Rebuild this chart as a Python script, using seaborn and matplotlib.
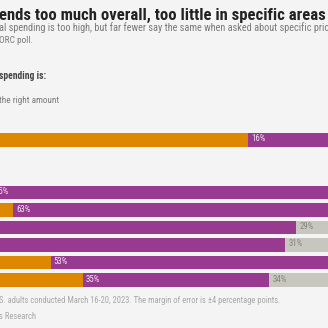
import matplotlib
matplotlib.use('Agg')
import matplotlib.pyplot as plt
import seaborn as sns
import pandas as pd
from matplotlib import font_manager as fm

# ---- data ----
categories = ['Overall', 'Social Security', 'Medicare', 'Education',
              'Infrastructure', 'Border security', 'Military']
too_much = [62, 14, 18, 10, 10, 25, 31]
too_little = [16, 65, 63, 61, 59, 53, 35]
right_amount = [22, 21, 19, 29, 31, 22, 34]
order = ['Overall', ' ', '  ', 'Social Security', 'Medicare', 'Education',
         'Infrastructure', 'Border security', 'Military']

title = "ends too much overall, too little in specific areas"
sub1 = "al spending is too high, but far fewer say the same when asked about specific prio"
sub2 = "ORC poll."
legend_title = "spending is:"
legend_item = "the right amount"
foot1 = "S. adults conducted March 16-20, 2023. The margin of error is \u00b14 percentage points."
foot2 = "s Research"

ORANGE = '#DE8700'
PURPLE = '#973A90'
GRAY = '#C7C7BF'
BG = '#F4F4F4'

sns.set_style('white')
names = {f.name for f in fm.fontManager.ttflist}
stretch = 'normal'
fam = None
for cand in ['Roboto Condensed', 'Liberation Sans Narrow', 'DejaVu Sans Condensed']:
    if cand in names:
        fam = cand
        break
if fam is None:
    if any(f.name == 'DejaVu Sans' and f.stretch == 'condensed' for f in fm.fontManager.ttflist):
        fam = 'DejaVu Sans'
        stretch = 'condensed'
    else:
        fam = 'Roboto' if 'Roboto' in names else 'DejaVu Sans'
plt.rcParams['font.family'] = [fam, 'DejaVu Sans']
plt.rcParams['font.stretch'] = stretch

W, H = 328, 328
fig = plt.figure(figsize=(3.28, 3.28), dpi=100, facecolor=BG)
renderer = fig.canvas.get_renderer()

# axes: x 0..100 maps to px -83..451 ; rows -1..9 map to px 122.5..297.5
left_px, right_px = -83, 451
top_px, bot_px = 122.5, 297.5
ax = fig.add_axes([left_px / W, 1 - bot_px / H, (right_px - left_px) / W, (bot_px - top_px) / H])
ax.set_facecolor('none')

df = pd.DataFrame({'cat': categories, 'too_much': too_much,
                   'too_little': too_little, 'right': right_amount})
df['c2'] = df['too_much'] + df['too_little']
df['c3'] = df['c2'] + df['right']

for col, colr in [('c3', GRAY), ('c2', PURPLE), ('too_much', ORANGE)]:
    sns.barplot(data=df, x=col, y='cat', order=order, color=colr, saturation=1,
                width=0.77, errorbar=None, orient='h', ax=ax,
                edgecolor='none', linewidth=0)

ax.set_xlim(0, 100)
ax.set_ylim(9, -1)
ax.axis('off')

# value labels
def lab_size(sample, width_px):
    t = fig.text(0, 0, sample, fontsize=10)
    w = t.get_window_extent(renderer).width
    t.remove()
    return 10 * width_px / w

lsz = lab_size('16%', 14)
for i, r in df.iterrows():
    y = order.index(r['cat'])
    ax.annotate(f"{r['too_little']}%", (r['too_much'], y), xytext=(3, 1),
                textcoords='offset pixels', ha='left', va='center',
                fontsize=lsz, color='#F2E6F1')
    ax.annotate(f"{r['right']}%", (r['c2'], y), xytext=(3, 1),
                textcoords='offset pixels', ha='left', va='center',
                fontsize=lsz, color='#85857F')

def fit_text(x_px, y_px, s, width_px, **kw):
    t = fig.text(x_px / W, 1 - y_px / H, s, ha='left', va='baseline', fontsize=10, **kw)
    w = t.get_window_extent(renderer).width
    t.set_fontsize(10 * width_px / w)
    return t

fit_text(-1, 20, title, 324, weight='bold', color='#222222')
fit_text(-1, 31, sub1, 330, color='#7A7A7A')
fit_text(-1, 43, sub2, 34, color='#7A7A7A')
fit_text(-1, 79, legend_title, 47, weight='bold', color='#444444')
fit_text(-1, 103, legend_item, 59, color='#7A7A7A')
fit_text(-1, 303, foot1, 281, color='#A8A8A8')
fit_text(-1, 319, foot2, 37, color='#A8A8A8')

fig.savefig('out.png', dpi=100, facecolor=BG)
